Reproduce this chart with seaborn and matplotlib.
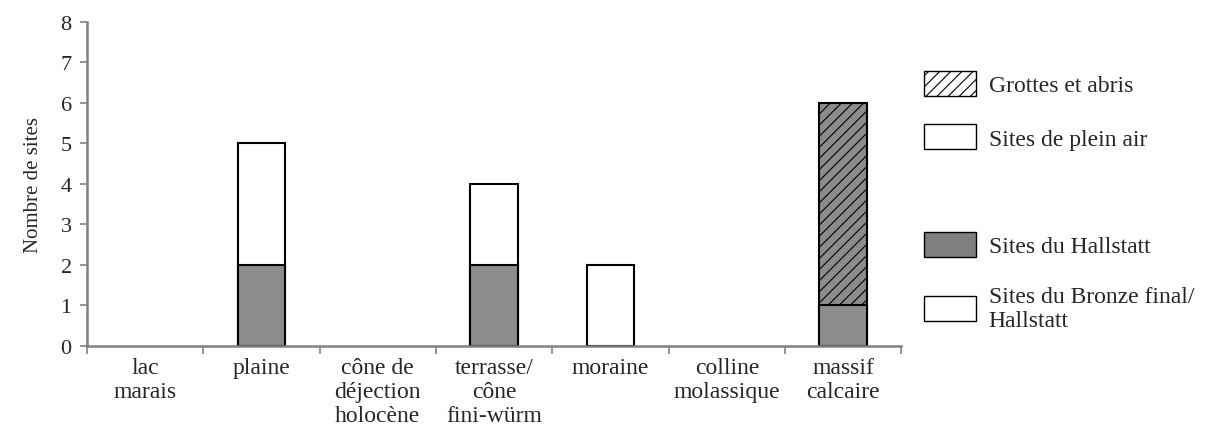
import seaborn as sns
import matplotlib.pyplot as plt
import matplotlib.patches as mpatches
import pandas as pd

# Nombre de sites par contexte topographique
categories = ['lac\nmarais', 'plaine', 'cône de\ndéjection\nholocène', 'terrasse/\ncône\nfini-würm',
              'moraine', 'colline\nmolassique', 'massif\ncalcaire']
hallstatt = [0, 2, 0, 2, 0, 0, 1]
bronze_final = [0, 3, 0, 2, 2, 0, 0]
grottes = [0, 0, 0, 0, 0, 0, 5]

df = pd.DataFrame({'cat': categories, 'hallstatt': hallstatt,
                   'bronze': bronze_final, 'grottes': grottes})
df['total'] = df['hallstatt'] + df['bronze'] + df['grottes']

sns.set_style('white')
plt.rcParams['font.family'] = ['Liberation Serif', 'DejaVu Serif']
plt.rcParams['hatch.linewidth'] = 0.8

grey = '#8c8c8c'
fig = plt.figure(figsize=(12.18, 4.31), dpi=100)
ax = fig.add_axes([0.0714, 0.195, 0.6686, 0.752])

# overlay: total first, then lower segment on top
plot = sns.barplot(x='cat', y='total', data=df, color='white', edgecolor='black',
                   linewidth=1.5, width=0.41, ax=ax, saturation=1)
for patch, g in zip(plot.patches, grottes):
    if g > 0:
        patch.set_facecolor(grey)
        patch.set_hatch('///')
sns.barplot(x='cat', y='hallstatt', data=df, color=grey, edgecolor='black',
            linewidth=1.5, width=0.41, ax=ax, saturation=1)
for patch in ax.patches:
    if patch.get_height() == 0:
        patch.set_visible(False)

ax.set_ylim(0, 8)
ax.set_xlim(-0.5, len(categories) - 0.5)
ax.set_yticks(range(0, 9))
ax.set_xlabel('')
ax.set_ylabel('Nombre de sites', fontsize=15, labelpad=13)
ax.tick_params(axis='y', labelsize=16, length=5, width=1.2, color='#808080', direction='out', left=True, pad=6)
ax.tick_params(axis='x', which='major', labelsize=17, length=0, pad=8)
ax.set_xticks([i - 0.5 for i in range(len(categories) + 1)], minor=True)
ax.tick_params(axis='x', which='minor', length=6, width=1.2, color='#808080', direction='out', bottom=True)
for lab in ax.get_xticklabels():
    lab.set_linespacing(1.2)
    lab.set_verticalalignment('top')
for side in ['top', 'right']:
    ax.spines[side].set_visible(False)
for side in ['left', 'bottom']:
    ax.spines[side].set_color('#808080')
    ax.spines[side].set_linewidth(1.8)

handles = [
    mpatches.Patch(facecolor='white', edgecolor='black', hatch='///', linewidth=1),
    mpatches.Patch(facecolor='white', edgecolor='black', linewidth=1),
    mpatches.Patch(facecolor='none', edgecolor='none'),
    mpatches.Patch(facecolor='#7f7f7f', edgecolor='black', linewidth=1),
    mpatches.Patch(facecolor='white', edgecolor='black', linewidth=1),
]
labels = ['Grottes et abris', 'Sites de plein air', '', 'Sites du Hallstatt',
          'Sites du Bronze final/\nHallstatt']
leg = fig.legend(handles, labels, loc='upper left', bbox_to_anchor=(0.741, 0.883),
                 frameon=False, fontsize=17, handlelength=2.2, handleheight=1.25,
                 labelspacing=1.2, handletextpad=0.55)
for t in leg.get_texts():
    t.set_linespacing(1.2)

fig.savefig('out.png', dpi=100)
